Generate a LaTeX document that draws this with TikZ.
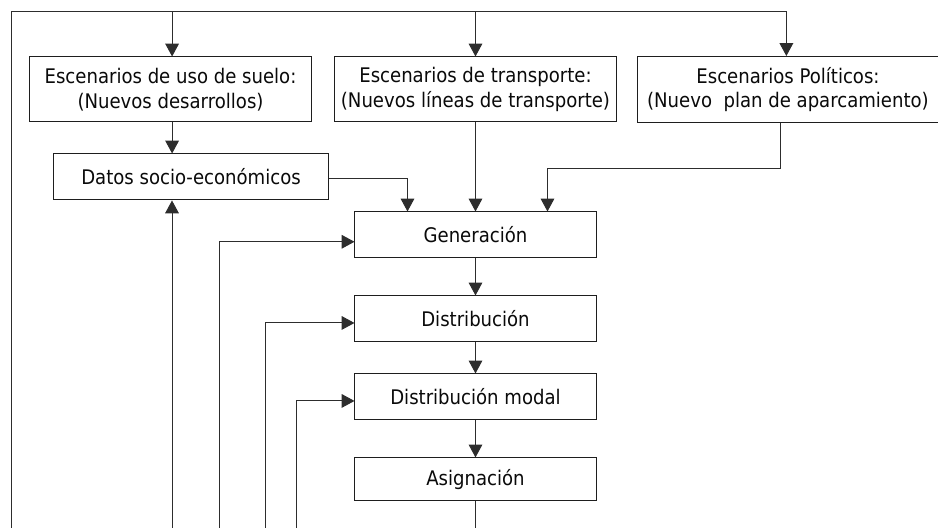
\documentclass[tikz,border=0pt]{standalone}
\usepackage{fontspec}
\setmainfont{DejaVu Sans Condensed}
\usetikzlibrary{arrows.meta,positioning,calc}
\definecolor{lineclr}{RGB}{45,45,45}
\definecolor{boxbdr}{RGB}{30,30,30}
\definecolor{txtclr}{RGB}{10,10,10}
\tikzset{
  scnbox/.style={rectangle,draw=boxbdr,fill=white,line width=0.7pt,
    minimum width=7.05cm,minimum height=1.625cm,
    font=\fontsize{14.3}{17.5}\selectfont,align=center,text=txtclr,inner sep=2pt},
  wscn/.style={scnbox,minimum width=7.525cm,minimum height=1.65cm},
  stgbox/.style={rectangle,draw=boxbdr,fill=white,line width=0.7pt,
    minimum width=6.025cm,minimum height=1.15cm,
    font=\fontsize{14.3}{17.5}\selectfont,align=center,text=txtclr},
  arr/.style={-{Triangle[length=0.32cm,width=0.34cm]},line width=0.7pt,color=lineclr},
  ln/.style={line width=0.7pt,color=lineclr},
}
\begin{document}
\begin{tikzpicture}
  \useasboundingbox (0,0) rectangle (23.45,13.2);
  % scenarios
  \node[scnbox] (esc1) at (4.2625,10.9625) {Escenarios de uso de suelo:\\(Nuevos desarrollos)};
  \node[scnbox,right=0.55cm of esc1] (esc2) {Escenarios de transporte:\\(Nuevos líneas de transporte)};
  \node[wscn,right=0.5cm of esc2]   (esc3) {Escenarios Políticos:\\(Nuevo\ \ plan de aparcamiento)};
  \node[stgbox,minimum width=6.875cm,anchor=north west] (datos)
       at ([shift={(0.6cm,-0.775cm)}]esc1.south west) {Datos socio-económicos};
  % model stages
  \node[stgbox,below=2.225cm of esc2] (gen)   {Generación};
  \node[stgbox,below=0.925cm of gen]  (dist)  {Distribución};
  \node[stgbox,below=0.775cm of dist] (modal) {Distribución modal};
  \node[stgbox,below=0.925cm of modal,minimum height=1.075cm] (asig) {Asignación};

  \coordinate (ftop) at (0.275,12.9);
  \coordinate (fbot) at (0.275,0);
  \coordinate (b1) at (4.3,0);
  \coordinate (b2) at (5.475,0);
  \coordinate (b3) at (6.625,0);
  \coordinate (b4) at (7.4,0);

  \draw[arr] (fbot) |- ([xshift=-0.04cm]esc3.north |- ftop) -- ([xshift=-0.04cm]esc3.north);
  \draw[arr] ([xshift=0.04cm]esc1.north |- ftop) -- ([xshift=0.04cm]esc1.north);
  \draw[arr] (esc2.north |- ftop) -- (esc2.north);
  \draw[arr] ([xshift=0.04cm]esc1.south) -- ([xshift=0.04cm]esc1.south |- datos.north);
  \draw[arr] ([yshift=-0.05cm]datos.east) -| ([xshift=1.325cm]gen.north west);
  \draw[arr] (esc2) -- (gen);
  \draw[arr] ([xshift=-0.19cm]esc3.south) -- ++(0,-1.15) -| ([xshift=-1.225cm]gen.north east);
  \draw[arr] (gen) -- (dist);
  \draw[arr] (dist) -- (modal);
  \draw[arr] (modal) -- (asig);
  \draw[ln] (asig.south) -- (asig.south |- fbot);
  % feedback
  \draw[arr] (b1) -- (b1 |- datos.south);
  \draw[arr] (b2) |- ([yshift=-0.17cm]gen.west);
  \draw[arr] (b3) |- ([yshift=-0.1cm]dist.west);
  \draw[arr] (b4) |- ([yshift=-0.1cm]modal.west);
\end{tikzpicture}
\end{document}
